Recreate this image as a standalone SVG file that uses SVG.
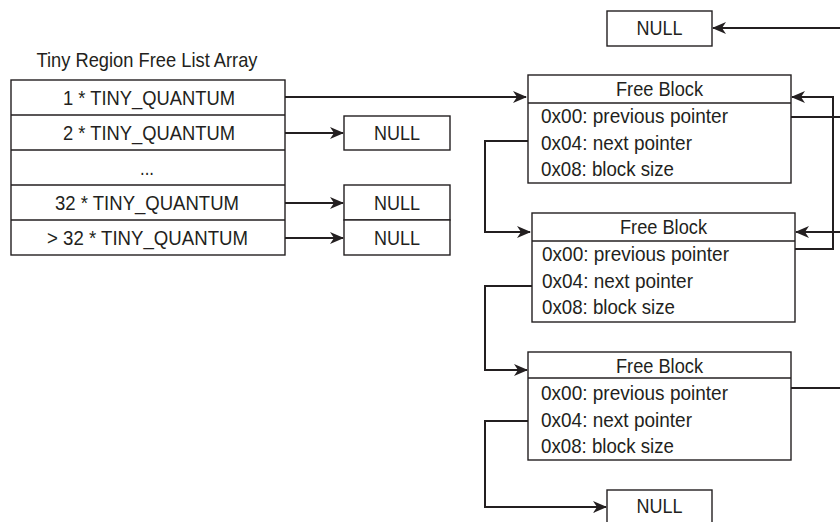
<svg xmlns="http://www.w3.org/2000/svg" width="840" height="522" viewBox="0 0 840 522">
<style>
text{font-family:"Liberation Sans",Arial,sans-serif;font-size:21px;fill:#231f20}
.c{text-anchor:middle}
.box{fill:#fff;stroke:#231f20;stroke-width:1.4}
.ln{fill:none;stroke:#231f20;stroke-width:2}
</style>
<defs>
<marker id="ah" markerUnits="userSpaceOnUse" markerWidth="14" markerHeight="12" refX="13" refY="6" orient="auto">
<path d="M0,0 L14,6 L0,12 L4,6 z" fill="#231f20"/>
</marker>
</defs>
<rect width="840" height="522" fill="#fff"/>
<g id="connectors">
<path class="ln" d="M285,97 H526" marker-end="url(#ah)"/>
<path class="ln" d="M285,133 H343" marker-end="url(#ah)"/>
<path class="ln" d="M285,203 H343" marker-end="url(#ah)"/>
<path class="ln" d="M285,238 H343" marker-end="url(#ah)"/>
<path class="ln" d="M840,28 H713" marker-end="url(#ah)"/>
<path class="ln" d="M791,117 H840"/>
<path class="ln" d="M795,249 H833 V97 H792" marker-end="url(#ah)"/>
<path class="ln" d="M840,232 H796" marker-end="url(#ah)"/>
<path class="ln" d="M528,141 H485 V232 H530" marker-end="url(#ah)"/>
<path class="ln" d="M532,286 H485 V370 H527" marker-end="url(#ah)"/>
<path class="ln" d="M791,388 H840"/>
<path class="ln" d="M528,421 H485 V507 H606" marker-end="url(#ah)"/>
</g>
<g id="title"><text class="c" x="147" y="67" textLength="221" lengthAdjust="spacingAndGlyphs">Tiny Region Free List Array</text></g>
<g id="freelist">
<rect class="box" x="11" y="80" width="274" height="175"/>
<path class="ln" style="stroke-width:1.4" d="M11,115 H285 M11,150 H285 M11,185 H285 M11,220 H285"/>
<text class="c" x="149" y="105" textLength="172" lengthAdjust="spacingAndGlyphs">1 * TINY_QUANTUM</text>
<text class="c" x="149" y="140" textLength="172" lengthAdjust="spacingAndGlyphs">2 * TINY_QUANTUM</text>
<text class="c" x="147" y="175" textLength="14" lengthAdjust="spacingAndGlyphs">...</text>
<text class="c" x="147" y="210" textLength="184" lengthAdjust="spacingAndGlyphs">32 * TINY_QUANTUM</text>
<text class="c" x="147.5" y="245" textLength="201" lengthAdjust="spacingAndGlyphs">&gt; 32 * TINY_QUANTUM</text>
</g>
<g id="null1"><rect class="box" x="344" y="116" width="106" height="34"/><text class="c" x="397" y="140" textLength="46" lengthAdjust="spacingAndGlyphs">NULL</text></g>
<g id="null2"><rect class="box" x="344" y="185" width="106" height="35"/><text class="c" x="397" y="210" textLength="46" lengthAdjust="spacingAndGlyphs">NULL</text></g>
<g id="null3"><rect class="box" x="344" y="220" width="106" height="35"/><text class="c" x="397" y="245" textLength="46" lengthAdjust="spacingAndGlyphs">NULL</text></g>
<g id="nullTop"><rect class="box" x="607" y="11" width="105" height="35"/><text class="c" x="659.5" y="35" textLength="46" lengthAdjust="spacingAndGlyphs">NULL</text></g>
<g id="block1">
<rect class="box" x="528" y="75" width="263" height="108"/>
<path class="ln" style="stroke-width:1.4" d="M528,103 H791"/>
<text class="c" x="659.5" y="96" textLength="87" lengthAdjust="spacingAndGlyphs">Free Block</text>
<text x="541" y="123" textLength="187" lengthAdjust="spacingAndGlyphs">0x00: previous pointer</text>
<text x="541" y="149.5" textLength="151" lengthAdjust="spacingAndGlyphs">0x04: next pointer</text>
<text x="541" y="176" textLength="133" lengthAdjust="spacingAndGlyphs">0x08: block size</text>
</g>
<g id="block2">
<rect class="box" x="532" y="213" width="263" height="109"/>
<path class="ln" style="stroke-width:1.4" d="M532,241 H795"/>
<text class="c" x="663.5" y="234" textLength="87" lengthAdjust="spacingAndGlyphs">Free Block</text>
<text x="542" y="261" textLength="187" lengthAdjust="spacingAndGlyphs">0x00: previous pointer</text>
<text x="542" y="287.5" textLength="151" lengthAdjust="spacingAndGlyphs">0x04: next pointer</text>
<text x="542" y="314" textLength="133" lengthAdjust="spacingAndGlyphs">0x08: block size</text>
</g>
<g id="block3">
<rect class="box" x="528" y="352" width="263" height="108"/>
<path class="ln" style="stroke-width:1.4" d="M528,378 H791"/>
<text class="c" x="659.5" y="373" textLength="87" lengthAdjust="spacingAndGlyphs">Free Block</text>
<text x="541" y="400" textLength="187" lengthAdjust="spacingAndGlyphs">0x00: previous pointer</text>
<text x="541" y="426.5" textLength="151" lengthAdjust="spacingAndGlyphs">0x04: next pointer</text>
<text x="541" y="453" textLength="133" lengthAdjust="spacingAndGlyphs">0x08: block size</text>
</g>
<g id="nullBottom"><rect class="box" x="607" y="490" width="105" height="36"/><text class="c" x="659.5" y="513" textLength="46" lengthAdjust="spacingAndGlyphs">NULL</text></g>
</svg>
